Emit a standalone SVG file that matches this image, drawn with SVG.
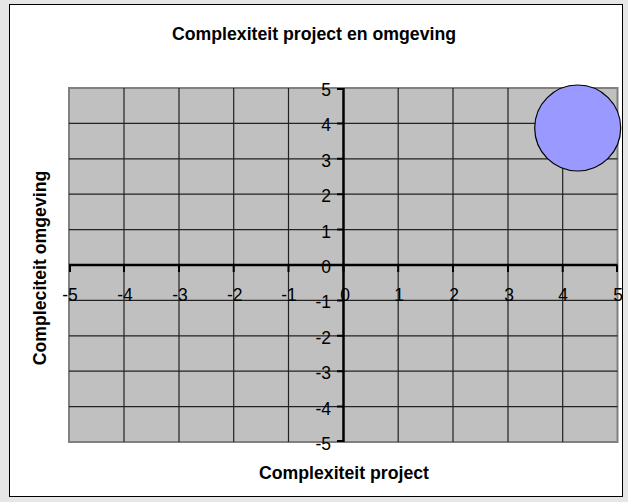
<svg xmlns="http://www.w3.org/2000/svg" width="628" height="502" viewBox="0 0 628 502">
<style>
.grid{stroke:#222;stroke-width:1.2;fill:none}
.axis{stroke:#000;stroke-width:2.5;fill:none}
.tick{stroke:#000;stroke-width:2;fill:none}
.lbl{font-family:"Liberation Sans",Arial,sans-serif;font-size:17.5px;fill:#000}
.ttl{font-family:"Liberation Sans",Arial,sans-serif;font-size:17.7px;font-weight:bold;fill:#000}
</style>
<rect x="0" y="0" width="628" height="502" fill="#e6e6e6"/>
<g id="chart-area">
<rect x="9.5" y="4.5" width="613" height="492" fill="#fff" stroke="#000" stroke-width="1"/>
</g>
<text id="title" class="ttl" x="314" y="40" text-anchor="middle">Complexiteit project en omgeving</text>
<g id="plot-area">
<rect x="70" y="89" width="548" height="354" fill="#808080" opacity="0.5"/>
<rect x="69" y="88" width="548.5" height="354" fill="#c0c0c0" stroke="#808080" stroke-width="2"/>
</g>
<g id="gridlines" class="grid">
<path d="M124 88V442M179 88V442M233.7 88V442M288.5 88V442M398.2 88V442M453 88V442M508 88V442M562.7 88V442"/>
<path d="M69 123.4H617.5M69 158.8H617.5M69 194.2H617.5M69 229.6H617.5M69 300.4H617.5M69 335.8H617.5M69 371.2H617.5M69 406.6H617.5"/>
</g>
<g id="connectors">
<path class="axis" d="M69 265H617.5"/>
<path class="axis" d="M343.5 88V442"/>
<path class="tick" d="M70 265V272M124 265V272M179 265V272M233.7 265V272M288.5 265V272M343.5 265V272M398.2 265V272M453 265V272M508 265V272M562.7 265V272M617 265V272"/>
<path class="tick" d="M337 89H343.5M337 123.4H343.5M337 158.8H343.5M337 194.2H343.5M337 229.6H343.5M337 265H343.5M337 300.4H343.5M337 335.8H343.5M337 371.2H343.5M337 406.6H343.5M337 441H343.5"/>
</g>
<g id="y-labels" class="lbl" text-anchor="end">
<text x="331" y="96">5</text>
<text x="331" y="131.4">4</text>
<text x="331" y="166.8">3</text>
<text x="331" y="202.2">2</text>
<text x="331" y="237.6">1</text>
<text x="331" y="273">0</text>
<text x="331" y="308.4">-1</text>
<text x="331" y="343.8">-2</text>
<text x="331" y="379.2">-3</text>
<text x="331" y="414.6">-4</text>
<text x="331" y="450">-5</text>
</g>
<g id="x-labels" class="lbl" text-anchor="middle">
<text x="70" y="301">-5</text>
<text x="125" y="301">-4</text>
<text x="180" y="301">-3</text>
<text x="234.7" y="301">-2</text>
<text x="289" y="301">-1</text>
<text x="345" y="301">0</text>
<text x="399" y="301">1</text>
<text x="454" y="301">2</text>
<text x="509" y="301">3</text>
<text x="563" y="301">4</text>
<text x="618" y="301">5</text>
</g>
<g id="bubble">
<circle cx="577.7" cy="128" r="43" fill="#9999ff" stroke="#000" stroke-width="1.2"/>
</g>
<text id="x-title" class="ttl" x="344" y="479" text-anchor="middle">Complexiteit project</text>
<text id="y-title" class="ttl" transform="translate(46 268) rotate(-90)" text-anchor="middle">Compleciteit omgeving</text>
</svg>
